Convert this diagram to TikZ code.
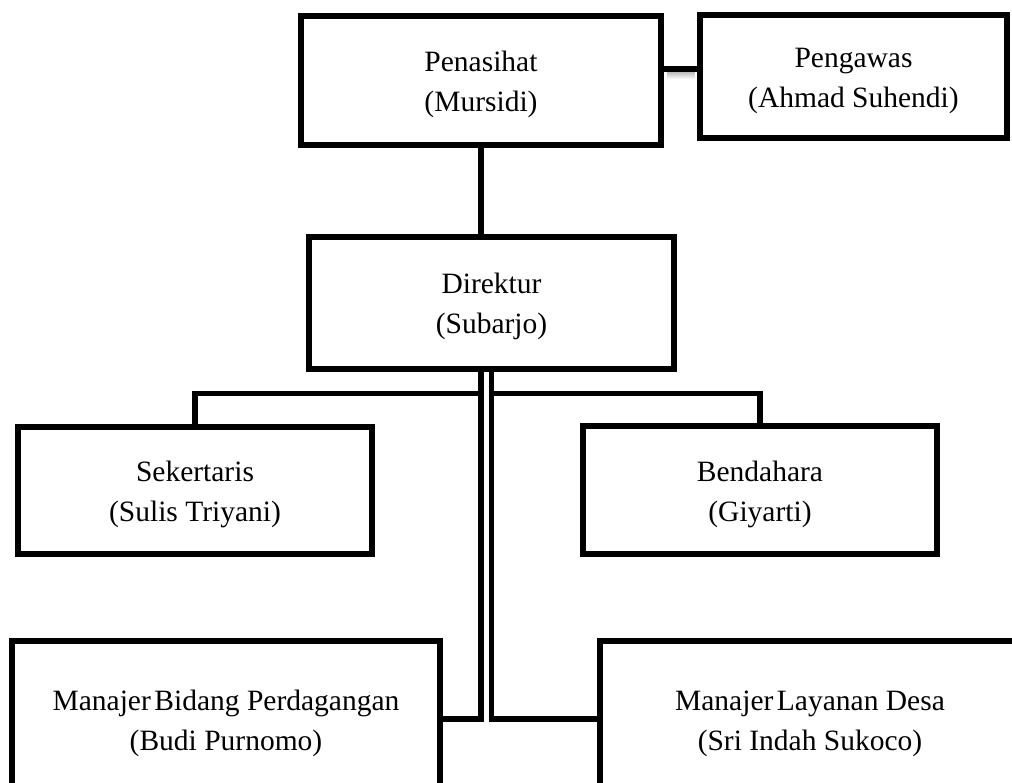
\documentclass[tikz,border=0pt]{standalone}
\usepackage{fontspec}
\setmainfont{Liberation Serif}
\usetikzlibrary{calc}
\begin{document}
\begin{tikzpicture}[x=1pt,y=-1pt,
  orgbox/.style={draw=black, line width=5.5pt, rectangle, inner sep=0pt, align=center,
    font=\fontsize{29.5}{40}\selectfont, fill=white, text height=64pt, text depth=2pt},
  link/.style={draw=black, line width=5.5pt}]
\useasboundingbox (0,0) rectangle (1012,783);
\clip (0,0) rectangle (1012,783);
\fill[white] (0,0) rectangle (1012,783);
% boxes
\node[orgbox, minimum width=360pt, minimum height=129pt] (pen) at (481,80.5) {Penasihat\\(Mursidi)};
\node[orgbox, minimum width=307pt, minimum height=123pt] (pgw) at (853.5,76.5) {Pengawas\\(Ahmad Suhendi)};
\node[orgbox, minimum width=365pt, minimum height=132pt] (dir) at (491.5,303) {Direktur\\(Subarjo)};
\node[orgbox, minimum width=354pt, minimum height=127pt] (sek) at (195,490.5) {Sekertaris\\(Sulis Triyani)};
\node[orgbox, minimum width=354pt, minimum height=128pt] (ben) at (760,490) {Bendahara\\(Giyarti)};
\node[orgbox, minimum width=428pt, minimum height=156pt] (mbp) at (226,719) {Manajer\kern0.12em Bidang Perdagangan\\(Budi Purnomo)};
\node[orgbox, minimum width=420pt, minimum height=156pt] (mld) at (810,719) {Manajer\kern0.12em Layanan Desa\\(Sri Indah Sukoco)};
% connectors
\coordinate (pc) at ($(pen.east)+(0,-11.5)$);
\shade[top color=black!30, bottom color=white] ($(pc)+(3,2)$) rectangle ($(pc -| pgw.west)+(-3,10)$);
\draw[link, line width=6pt] (pc) -- (pc -| pgw.west);
\draw[link] (pen.south) -- (pen.south |- dir.north);
\coordinate (dl) at ($(pen.south |- dir.south)$);
\coordinate (hl) at ($(dl)+(0,22)$);
\coordinate (hr) at ($(dir.south)+(0,22)$);
\draw[link] (sek.north) |- (hl);
\draw[link] (ben.north) |- (hr);
\draw[link] (dl) |- (mbp.east);
\draw[link] (dir.south) |- (mld.west);
\end{tikzpicture}
\end{document}
